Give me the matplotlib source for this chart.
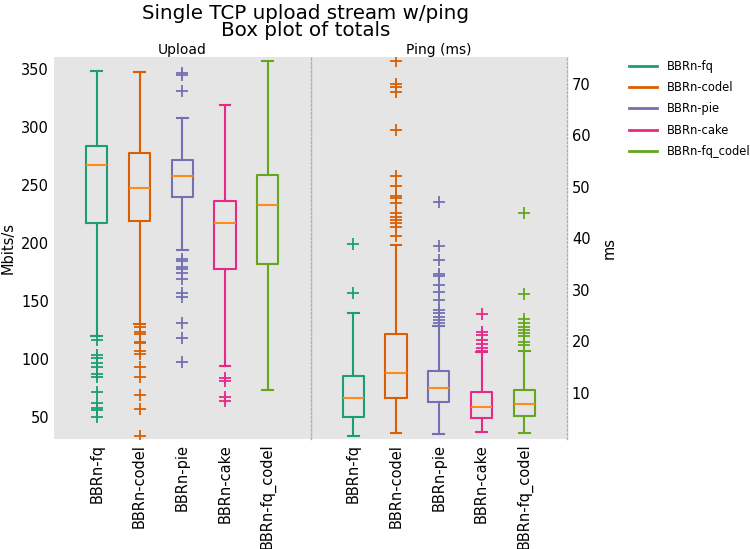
import matplotlib
matplotlib.use("Agg")
import matplotlib.pyplot as plt
from matplotlib.lines import Line2D

series = ["BBRn-fq", "BBRn-codel", "BBRn-pie", "BBRn-cake", "BBRn-fq_codel"]
colors = ["#1b9e77", "#d95f02", "#7570b3", "#e7298a", "#66a61e"]

# upload (Mbits/s): whisker low, Q1, median, Q3, whisker high
up_wlo = [119.7, 130.1, 194.0, 94.0, 72.8]
up_q1 = [217.5, 218.7, 240.0, 177.3, 181.9]
up_med = [267.4, 247.2, 258.1, 217.0, 232.6]
up_q3 = [284.0, 277.7, 271.4, 236.5, 258.7]
up_whi = [348.8, 347.4, 307.7, 319.2, 357.4]
up_fliers = [
    [116.2, 103.3, 100.4, 96.7, 93.2, 86.9, 84.0, 71.6, 62.1, 57.8, 55.8, 49.5],
    [127.7, 123.4, 121.4, 114.8, 113.4, 107.0, 103.9, 92.7, 84.5, 68.7, 56.4, 33.3],
    [347.0, 345.0, 331.5, 186.4, 184.7, 179.5, 177.8, 173.8, 168.7, 156.6,
     153.6, 130.7, 117.7, 97.0],
    [83.2, 81.1, 67.3, 63.8],
    [],
]

# ping (ms)
pg_wlo = [1.6, 2.1, 2.0, 2.3, 2.1]
pg_q1 = [5.2, 9.0, 8.1, 5.0, 5.5]
pg_med = [9.0, 13.8, 10.8, 7.3, 7.8]
pg_q3 = [13.3, 21.3, 14.1, 10.1, 10.6]
pg_whi = [25.5, 38.6, 23.0, 17.8, 18.1]
pg_fliers = [
    [38.8, 29.3],
    [74.3, 70.0, 69.3, 68.4, 60.9, 52.1, 50.1, 48.1, 47.7, 46.8, 44.8, 44.1,
     43.5, 42.9, 42.2, 40.4],
    [47.0, 38.5, 35.7, 33.0, 32.6, 30.9, 29.5, 28.0, 26.0, 25.4, 24.7, 24.1, 23.5],
    [25.3, 21.8, 21.2, 20.2, 19.4, 18.6, 18.1],
    [44.9, 29.1, 24.2, 23.5, 22.8, 22.2, 21.5, 20.9, 19.9, 19.3],
]


def make_stats(wlo, q1, med, q3, whi, fliers):
    stats = []
    for i in range(len(series)):
        stats.append({"whislo": wlo[i], "q1": q1[i], "med": med[i], "q3": q3[i],
                      "whishi": whi[i], "fliers": fliers[i], "label": series[i]})
    return stats


fig = plt.figure(figsize=(7.5, 5.49), dpi=100)
ax1 = fig.add_axes([0.072, 0.2004, 0.342, 0.6963])
ax2 = fig.add_axes([0.414, 0.2004, 0.342, 0.6963])

panels = [
    (ax1, make_stats(up_wlo, up_q1, up_med, up_q3, up_whi, up_fliers), "Upload"),
    (ax2, make_stats(pg_wlo, pg_q1, pg_med, pg_q3, pg_whi, pg_fliers), "Ping (ms)"),
]

for ax, stats, title in panels:
    ax.set_facecolor("#e5e5e5")
    bp = ax.bxp(stats, positions=range(1, 6), widths=0.5, patch_artist=False)
    for i, c in enumerate(colors):
        bp["boxes"][i].set(color=c, linewidth=1.5)
        bp["medians"][i].set(color="#ff8c1a", linewidth=1.5)
        for w in bp["whiskers"][2 * i:2 * i + 2]:
            w.set(color=c, linewidth=1.5)
        for cap in bp["caps"][2 * i:2 * i + 2]:
            cap.set(color=c, linewidth=1.5)
        bp["fliers"][i].set(marker="+", markeredgecolor=c, markersize=8,
                            markeredgewidth=1.3, linestyle="none")
    ax.set_xlim(0, 6)
    ax.set_xticks(range(1, 6))
    ax.set_xticklabels(series, rotation=90, fontsize=10)
    ax.set_title(title, fontsize=10, pad=2)
    ax.tick_params(length=0, labelsize=10.5)
    for s in ["top", "bottom", "left", "right"]:
        ax.spines[s].set_visible(False)

ax1.set_ylim(30.7, 361)
ax1.set_yticks([50, 100, 150, 200, 250, 300, 350])
ax1.set_ylabel("Mbits/s", fontsize=10.5)

ax2.set_ylim(1.0, 75.2)
ax2.set_yticks([10, 20, 30, 40, 50, 60, 70])
ax2.yaxis.tick_right()
ax2.yaxis.set_label_position("right")
ax2.set_ylabel("ms", fontsize=10.5, labelpad=8)
for s in ["left", "right"]:
    ax2.spines[s].set_visible(True)
    ax2.spines[s].set(linestyle=(0, (1.5, 1.5)), color="#b0b0b0", linewidth=1.0)

handles = [Line2D([], [], color=c, linewidth=2) for c in colors]
fig.legend(handles, series, loc="upper left", bbox_to_anchor=(0.825, 0.91),
           frameon=False, fontsize=8.3, handlelength=2.4, handletextpad=0.9,
           labelspacing=0.72)

fig.text(0.408, 0.992, "Single TCP upload stream w/ping\nBox plot of totals",
         ha="center", va="top", fontsize=14.3, linespacing=0.85)

fig.savefig("out.png", dpi=100)
